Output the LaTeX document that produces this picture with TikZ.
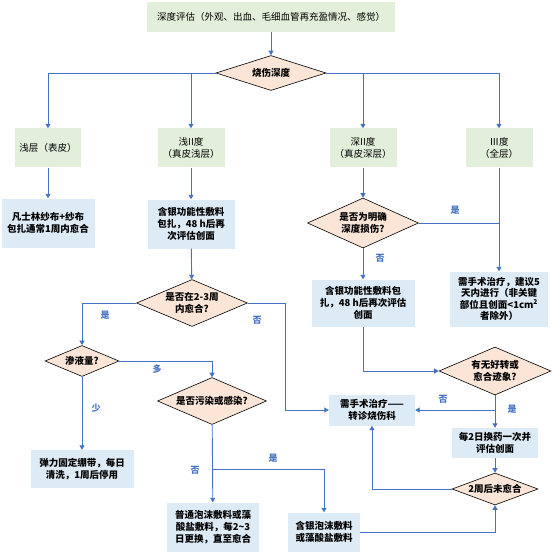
\documentclass[tikz,border=0pt]{standalone}
\usepackage{fontspec}
\setmainfont{Noto Sans CJK SC}
\usetikzlibrary{shapes.geometric,arrows.meta}
\definecolor{boxgreen}{RGB}{226,239,218}
\definecolor{boxblue}{RGB}{221,235,247}
\definecolor{boxpeach}{RGB}{251,229,214}
\definecolor{flowblue}{RGB}{68,114,196}
\begin{document}
\begin{tikzpicture}[x=1pt, y=-1pt, font=\fontsize{9.5}{12}\selectfont,
	level/.style={rectangle, fill=boxgreen, align=center, inner sep=1pt},
	care/.style={rectangle, fill=boxblue, align=center, inner sep=1pt, font=\fontsize{9.5}{12}\selectfont\bfseries},
	ask/.style={diamond, draw=black, line width=0.6pt, fill=boxpeach, align=center, inner sep=0pt, aspect=2.3, font=\fontsize{9.5}{12}\selectfont\bfseries},
	flow/.style={draw=flowblue, line width=0.9pt},
	go/.style={flow, -{Triangle[length=4.5pt,width=5pt]}},
	tag/.style={text=flowblue, font=\fontsize{9}{10}\selectfont\bfseries, inner sep=0pt}]

	\useasboundingbox (0,0) rectangle (553,556);

	\node[level, minimum width=248, minimum height=30] (top) at (271,17) {深度评估（外观、出血、毛细血管再充盈情况、感觉）};
	\node[ask, minimum width=110, minimum height=35, aspect=3] (deg) at (271,73) {烧伤深度};

	\node[level, minimum width=66, minimum height=39] (L1) at (48,148) {浅层（表皮）};
	\node[level, minimum width=67, minimum height=39] (L2) at (191,148) {浅II度\\（真皮浅层）};
	\node[level, minimum width=67, minimum height=39] (L3) at (363,148) {深II度\\（真皮深层）};
	\node[level, minimum width=67, minimum height=39] (L4) at (499,148) {Ⅲ度\\（全层）};

	\node[care, minimum width=93, minimum height=49] (B1) at (48,223) {凡士林纱布+纱布\\包扎通常1周内愈合};
	\node[care, minimum width=87, minimum height=49] (B2) at (191,224) {含银功能性敷料\\包扎，48 h后再\\次评估创面};
	\node[ask, minimum width=111, minimum height=50] (D2) at (363,223) {是否为明确\\深度损伤?};
	\node[care, minimum width=103, minimum height=47] (B3) at (363,303) {含银功能性敷料包\\扎，48 h后再次评估\\创面};
	\node[care, minimum width=98, minimum height=55, font=\fontsize{9.5}{11.5}\selectfont\bfseries] (S1) at (499,299) {需手术治疗，建议5\\天内进行（非关键\\部位且创面<1cm\textsuperscript{2}\\者除外）};

	\node[ask, minimum width=111, minimum height=47] (D3) at (192,303) {是否在2-3周\\内愈合?};
	\node[ask, minimum width=112, minimum height=48] (D4) at (495,371) {有无好转或\\愈合迹象?};
	\node[care, minimum width=86, minimum height=31] (S2) at (372,410) {需手术治疗——\\转诊烧伤科};
	\node[ask, minimum width=74, minimum height=31, aspect=2.4] (D5) at (82,361) {渗液量?};
	\node[ask, minimum width=109, minimum height=47] (D6) at (212,401) {是否污染或感染?};
	\node[care, minimum width=86, minimum height=30] (B4) at (495,443) {每2日换药一次并\\评估创面};
	\node[ask, minimum width=86, minimum height=32, aspect=2.7] (D7) at (495,489) {2周后未愈合};

	\node[care, minimum width=103, minimum height=38] (B5) at (82,469) {弹力固定绷带，每日\\清洗，1周后停用};
	\node[care, minimum width=92, minimum height=49] (B6) at (213,527) {普通泡沫敷料或藻\\酸盐敷料，每2\textasciitilde3\\日更换，直至愈合};
	\node[care, minimum width=72, minimum height=39] (B7) at (324,532) {含银泡沫敷料\\或藻酸盐敷料};

	\coordinate (k1) at (285,0);
	\coordinate (k2) at (0,469);

	\node[tag] (t1) at (455,210) {是};
	\node[tag] (t2) at (380,258) {否};
	\node[tag] (t3) at (105,315) {是};
	\node[tag] (t4) at (257,320) {否};
	\node[tag] (t5) at (157,369) {多};
	\node[tag] (t6) at (96,408) {少};
	\node[tag] (t7) at (443,399) {否};
	\node[tag] (t8) at (512,409) {是};
	\node[tag] (t9) at (195,470) {否};
	\node[tag] (t10) at (273,458) {是};

	\draw[go] (top) -- (deg);
	\draw[go] (deg.west) -| (L1.north);
	\draw[go] (deg.east) -| (L4.north);
	\draw[go] (L2.north |- deg) -- (L2.north);
	\draw[go] (L3.north |- deg) -- (L3.north);
	\draw[go] (L1) -- (B1);
	\draw[go] (L2) -- (B2);
	\draw[go] (L3) -- (D2);
	\draw[go] (L4) -- (S1);
	\draw[flow] (D2.east) -- (L4.south |- D2.east);
	\draw[go] (D2) -- (B3);
	\draw[go] (B2) -- (D3);
	\draw[go] (D3.west) -| (D5.north);
	\draw[go] (D3.east) -| (k1 |- S2.west) -- (S2.west);
	\draw[go] (B3.south) |- (D4.west);
	\draw[go] (D4) -- (B4);
	\draw[go] (D4.south |- S2.east) -- (S2.east);
	\draw[go] (D5) -- (B5);
	\draw[go] (D5.east) -| (D6.north);
	\draw[go] (D6) -- (B6);
	\draw[go] (D6.south |- k2) -| (B7.north);
	\draw[go] (B4) -- (D7);
	\draw[go] (B7.east) -| (D7.south);
	\draw[go] (D7.west) -| (S2.south);
\end{tikzpicture}
\end{document}
